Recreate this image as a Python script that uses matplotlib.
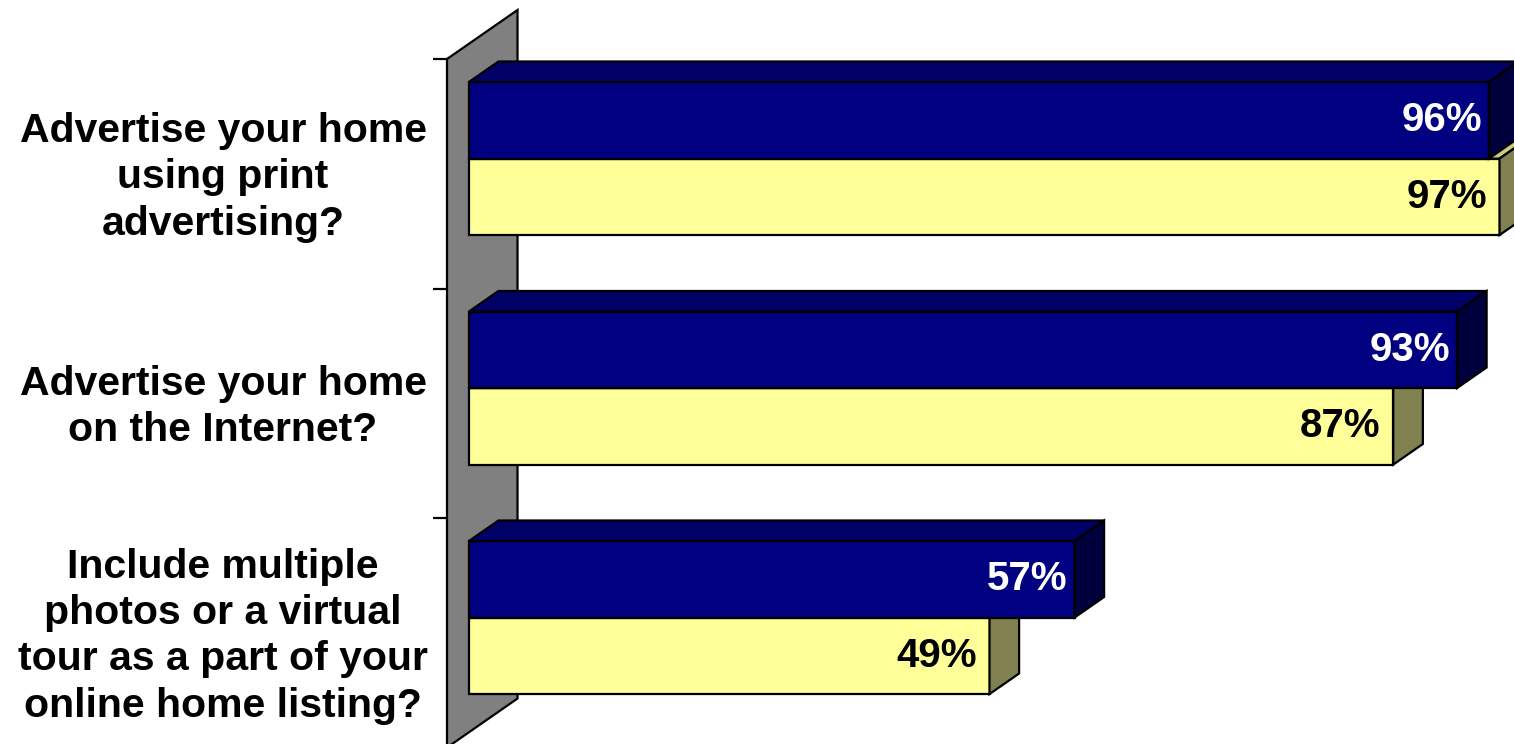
import numpy as np
import matplotlib.pyplot as plt
from matplotlib.patches import Polygon

categories = [
    'Advertise your home\nusing print\nadvertising?',
    'Advertise your home\non the Internet?',
    'Include multiple\nphotos or a virtual\ntour as a part of your\nonline home listing?',
]
navy_values = [96, 93, 57]
yellow_values = [97, 87, 49]

# oblique projection for the depth direction (data units per full depth)
DX, DY = 6.635, -0.2135
D0, D1 = 0.31, 0.73      # front / back of the bars inside the wall depth
GAP = 1 / 6              # empty space above and below each pair of bars

NAVY = ('#000080', '#000066', '#00003c')
YELLOW = ('#ffff99', '#cccc7a', '#808050')


def proj(v, y, d):
    return (v + d * DX, y + d * DY)


def box(ax, v, y0, y1, colors):
    front, top, side = colors
    faces = [
        ([proj(0, y0, D0), proj(v, y0, D0), proj(v, y1, D0), proj(0, y1, D0)], front),
        ([proj(0, y0, D0), proj(v, y0, D0), proj(v, y0, D1), proj(0, y0, D1)], top),
        ([proj(v, y0, D0), proj(v, y0, D1), proj(v, y1, D1), proj(v, y1, D0)], side),
    ]
    for pts, c in faces:
        ax.add_patch(Polygon(pts, closed=True, facecolor=c, edgecolor='black',
                             lw=1.6, joinstyle='miter'))


plt.rcParams['font.family'] = ['Liberation Sans', 'DejaVu Sans']

fig = plt.figure(figsize=(15.14, 7.44), dpi=100)
ax = fig.add_axes([0, 0, 1, 1])
ax.set_xlim(-42.07, 100.42)
ax.set_ylim(2.9847, -0.2571)
ax.axis('off')

n = len(categories)

# grey side wall at value 0
wall = [proj(0, 0, 0), proj(0, 0, 1), proj(0, n, 1), proj(0, n, 0)]
ax.add_patch(Polygon(wall, closed=True, facecolor='#808080', edgecolor='black', lw=1.6))

# tick marks at category boundaries
for i in range(n + 1):
    ax.plot([-1.32, 0], [i, i], color='black', lw=1.6, solid_capstyle='butt')

for i in range(n):
    mid = i + 0.5
    # yellow first so the navy bar covers its top face
    box(ax, yellow_values[i], mid, i + 1 - GAP, YELLOW)
    box(ax, navy_values[i], i + GAP, mid, NAVY)

    ax.annotate(f'{navy_values[i]}%', proj(navy_values[i], (i + GAP + mid) / 2, D0),
                xytext=(-5, 0), textcoords='offset points', ha='right', va='center',
                fontsize=29, fontweight='bold', color='white')
    ax.annotate(f'{yellow_values[i]}%', proj(yellow_values[i], (mid + i + 1 - GAP) / 2, D0),
                xytext=(-9, 0), textcoords='offset points', ha='right', va='center',
                fontsize=29, fontweight='bold', color='black')

    ax.text(-21.08, mid + 0.015, categories[i], ha='center', va='center',
            multialignment='center', fontsize=29.5, fontweight='bold', linespacing=1.28)

fig.savefig('out.png', dpi=100)
